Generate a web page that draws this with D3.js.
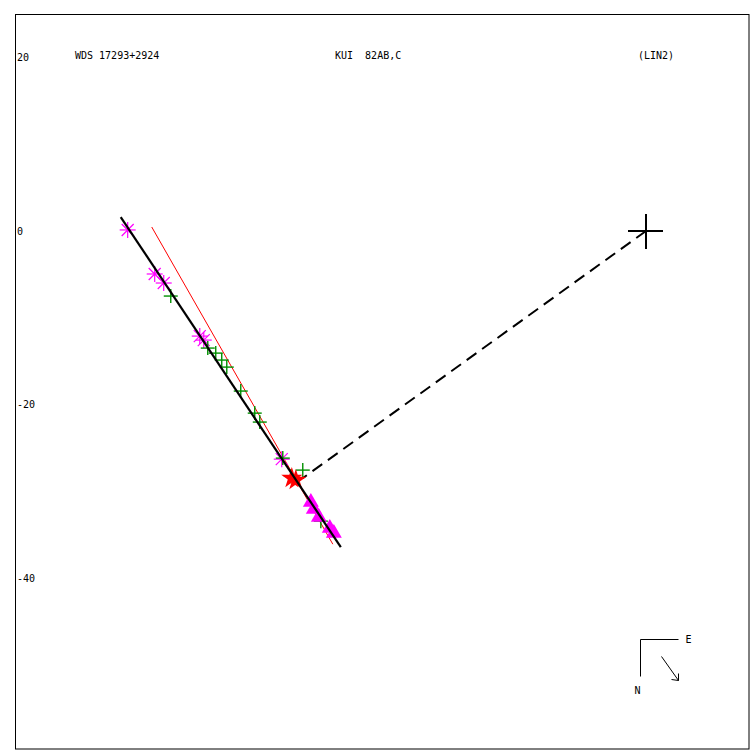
<!DOCTYPE html>
<html><head><meta charset="utf-8">
<script src="https://cdn.jsdelivr.net/npm/d3@7"></script>
<style>body{margin:0;background:#fff}svg{display:block}text{font-family:"DejaVu Sans Mono",monospace;font-size:10px;white-space:pre;fill:#000}</style>
</head><body>
<script>
// Data (arcsec offsets relative to primary; x positive to the right, y positive up)
const yTicks = [20, 0, -20, -40];
const titleLeft = "WDS 17293+2924";
const titleMid = "KUI  82AB,C";
const titleRight = "(LIN2)";
const asterisks = [[-59.68,0.12],[-56.57,-4.95],[-55.53,-5.99],[-51.38,-12.10],[-50.92,-12.56],[-41.94,-26.27]];
const crosses = [[-54.72,-7.49],[-50.46,-13.48],[-49.54,-14.06],[-48.85,-14.86],[-48.27,-15.67],[-46.66,-18.43],[-45.05,-20.97],[-44.47,-22.00],[-41.82,-26.15],[-40.90,-28.23],[-39.52,-27.53],[-37.44,-33.41]];
const stars = [[-40.78,-28.46],[-40.32,-28.69]];
const triangles = [[-38.59,-31.22],[-38.25,-32.03],[-37.67,-32.95],[-36.41,-34.22],[-35.94,-34.79]];
const fitLine = [[-60.48,1.61],[-35.14,-36.41]];
const redLine = [[-56.91,0.46],[-36.06,-36.06]];
const dashLine = [[0,0],[-39.52,-28.46]];
const primary = [0,0];

const W = 750, H = 750;
const svg = d3.select("body").append("svg").attr("width", W).attr("height", H);
const x = d3.scaleLinear().domain([0, 20]).range([646, 646 + 173.7]);
const y = d3.scaleLinear().domain([0, -20]).range([231, 404.7]);

// frame
svg.append("rect").attr("x", 15.5).attr("y", 14.5).attr("width", 733.5).attr("height", 734.5)
  .attr("fill", "none").attr("stroke", "#000").attr("stroke-width", 1);

// y labels
svg.selectAll(".yl").data(yTicks).enter().append("text")
  .attr("x", 17).attr("y", d => y(d)).attr("dy", "0.35em").text(d => String(d));

// titles
svg.append("text").attr("x", 75).attr("y", 55).attr("dy", "0.35em").text(titleLeft);
svg.append("text").attr("x", 335).attr("y", 55).attr("dy", "0.35em").text(titleMid);
svg.append("text").attr("x", 638).attr("y", 55).attr("dy", "0.35em").text(titleRight);

const line = d3.line().x(d => x(d[0])).y(d => y(d[1]));

// red line
svg.append("path").attr("d", line(redLine)).attr("stroke", "#ff0000").attr("stroke-width", 1).attr("fill", "none");

// dashed line
svg.append("path").attr("d", line(dashLine)).attr("stroke", "#000").attr("stroke-width", 2)
  .attr("stroke-dasharray", "12,7").attr("fill", "none");

// asterisks
const ast = svg.selectAll(".ast").data(asterisks).enter().append("g")
  .attr("transform", d => `translate(${x(d[0])},${y(d[1])})`);
[[-8,0,8,0],[0,-8,0,8],[-6,-6,6,6],[-6,6,6,-6]].forEach(s => {
  ast.append("line").attr("x1", s[0]).attr("y1", s[1]).attr("x2", s[2]).attr("y2", s[3])
    .attr("stroke", "#ff00ff").attr("stroke-width", 1.2);
});

// crosses
const cr = svg.selectAll(".cr").data(crosses).enter().append("g")
  .attr("transform", d => `translate(${x(d[0])},${y(d[1])})`);
[[-7,0,7,0],[0,-7,0,7]].forEach(s => {
  cr.append("line").attr("x1", s[0]).attr("y1", s[1]).attr("x2", s[2]).attr("y2", s[3])
    .attr("stroke", "#009000").attr("stroke-width", 1.4);
});

// red stars
svg.selectAll(".st").data(stars).enter().append("path")
  .attr("d", d3.symbol().type(d3.symbolStar).size(140))
  .attr("transform", d => `translate(${x(d[0])},${y(d[1])})`)
  .attr("fill", "#ff0000");

// magenta triangles
svg.selectAll(".tr").data(triangles).enter().append("path")
  .attr("d", d3.symbol().type(d3.symbolTriangle).size(110))
  .attr("transform", d => `translate(${x(d[0])},${y(d[1])})`)
  .attr("fill", "#ff00ff");

// fit line
svg.append("path").attr("d", line(fitLine)).attr("stroke", "#000").attr("stroke-width", 2.2).attr("fill", "none");

// primary cross
[[-18,0,17,0],[0,-17,0,18]].forEach(s => {
  svg.append("line").attr("x1", x(primary[0]) + s[0]).attr("y1", y(primary[1]) + s[1])
    .attr("x2", x(primary[0]) + s[2]).attr("y2", y(primary[1]) + s[3])
    .attr("stroke", "#000").attr("stroke-width", 2);
});

// compass
const cg = svg.append("g").attr("transform", "translate(640.5,639.5)");
cg.append("path").attr("d", "M38,0H0V37").attr("stroke", "#000").attr("fill", "none").attr("stroke-width", 1);
cg.append("text").attr("x", 45).attr("y", 0).attr("dy", "0.35em").text("E");
cg.append("text").attr("x", -6).attr("y", 51).attr("dy", "0.35em").text("N");
cg.append("line").attr("x1", 21).attr("y1", 17).attr("x2", 38).attr("y2", 41).attr("stroke", "#000").attr("stroke-width", 1);
cg.append("path").attr("d", "M31,40L38,41L38,34").attr("stroke", "#000").attr("fill", "none").attr("stroke-width", 1);
</script>
</body></html>
